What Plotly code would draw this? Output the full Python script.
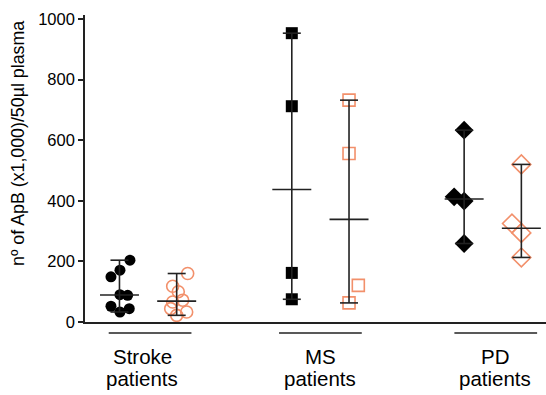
import numpy as np
import plotly.graph_objects as go

# ---- data ----
groups = ["Stroke", "MS", "PD"]
stroke_black = [204, 171, 149, 90, 88, 52, 33, 44]
stroke_orange = [160, 118, 100, 72, 66, 44, 33, 22]
ms_black = [953, 712, 162, 75]
ms_orange = [732, 556, 121, 63]
pd_black = [633, 413, 399, 259]
pd_orange = [520, 325, 294, 213]
y_ticks = [0, 200, 400, 600, 800, 1000]
y_title = "n\u00ba of ApB (x1,000)/50\u00b5l plasma"

# horizontal scatter (jitter) in pixels, for each point
PX = 172.4
jit_stroke_black = [10.5, 0.5, -8.5, 0.5, 8.2, -8.5, 0.5, 9.8]
jit_stroke_orange = [11, -4, 1.6, 6, -4, -6, 10, 0]
jit_ms_black = [0, 0, 0, 0]
jit_ms_orange = [0, 0, 9.3, 0]
jit_pd_black = [0, -10, 0, 0]
jit_pd_orange = [0, -9.4, 0, 0]
label_shift_px = [-6, 0, 2]
line_shift_px = [2, 0, 3]

OFF = 0.166
ORANGE = "#F2906B"
LINE = "#222222"
FONT = "Liberation Sans, Arial, sans-serif"

series = [
    (0 - OFF, stroke_black, jit_stroke_black, dict(symbol="circle", size=11, color="black")),
    (0 + OFF, stroke_orange, jit_stroke_orange, dict(symbol="circle-open", size=12, color=ORANGE, line=dict(width=1.6, color=ORANGE))),
    (1 - OFF, ms_black, jit_ms_black, dict(symbol="square", size=12, color="black")),
    (1 + OFF, ms_orange, jit_ms_orange, dict(symbol="square-open", size=12, color=ORANGE, line=dict(width=1.6, color=ORANGE))),
    (2 - OFF, pd_black, jit_pd_black, dict(symbol="diamond", size=14.5, color="black")),
    (2 + OFF, pd_orange, jit_pd_orange, dict(symbol="diamond-open", size=14.5, color=ORANGE, line=dict(width=1.6, color=ORANGE))),
]

fig = go.Figure()
for xc, vals, jit, mk in series:
    xs = [xc + j / PX for j in jit]
    fig.add_trace(go.Scatter(x=xs, y=vals, mode="markers", marker=mk,
                             showlegend=False, hoverinfo="y"))

cap = 9 / PX
med_w = 19.5 / PX
for xc, vals, jit, mk in series:
    lo, hi, med = float(np.min(vals)), float(np.max(vals)), float(np.median(vals))
    xs = [xc, xc, None, xc - cap, xc + cap, None, xc - cap, xc + cap, None, xc - med_w, xc + med_w]
    ys = [lo, hi, None, lo, lo, None, hi, hi, None, med, med]
    fig.add_trace(go.Scatter(x=xs, y=ys, mode="lines", line=dict(color=LINE, width=1.6),
                             showlegend=False, hoverinfo="skip"))

# group underlines and labels
shapes = []
annotations = []
for i, g in enumerate(groups):
    lc = i + line_shift_px[i] / PX
    tc = i + label_shift_px[i] / PX
    shapes.append(dict(type="line", xref="x", yref="paper", x0=lc - 0.24, x1=lc + 0.24,
                       y0=-0.036, y1=-0.036, line=dict(color=LINE, width=1.6)))
    annotations.append(dict(text=g, x=tc, xref="x", y=-0.113, yref="paper",
                            showarrow=False, xanchor="center", yanchor="middle",
                            font=dict(size=20.5, color="black", family=FONT)))
    annotations.append(dict(text="patients", x=tc, xref="x", y=-0.184, yref="paper",
                            showarrow=False, xanchor="center", yanchor="middle",
                            font=dict(size=20.5, color="black", family=FONT)))

annotations.append(dict(text=y_title, textangle=-90, x=-0.1453, xref="paper",
                        y=0.58, yref="paper", showarrow=False,
                        xanchor="center", yanchor="middle",
                        font=dict(size=17.8, color="black", family=FONT)))

fig.update_layout(
    width=546, height=395,
    margin=dict(l=85, r=0, t=15, b=73),
    plot_bgcolor="white", paper_bgcolor="white",
    font=dict(family=FONT, color="black"),
    shapes=shapes, annotations=annotations,
    xaxis=dict(range=[-0.366, 2.309], showgrid=False, zeroline=False,
               showline=True, linecolor=LINE, linewidth=1.6,
               showticklabels=False, ticks=""),
    yaxis=dict(range=[0, 1013], tickvals=y_ticks, showgrid=False, zeroline=False,
               showline=True, linecolor=LINE, linewidth=1.6,
               ticks="outside", ticklen=5, tickwidth=1.6, tickcolor=LINE,
               tickfont=dict(size=16.5, family=FONT, color="black")),
)

fig.write_html("out.html")
